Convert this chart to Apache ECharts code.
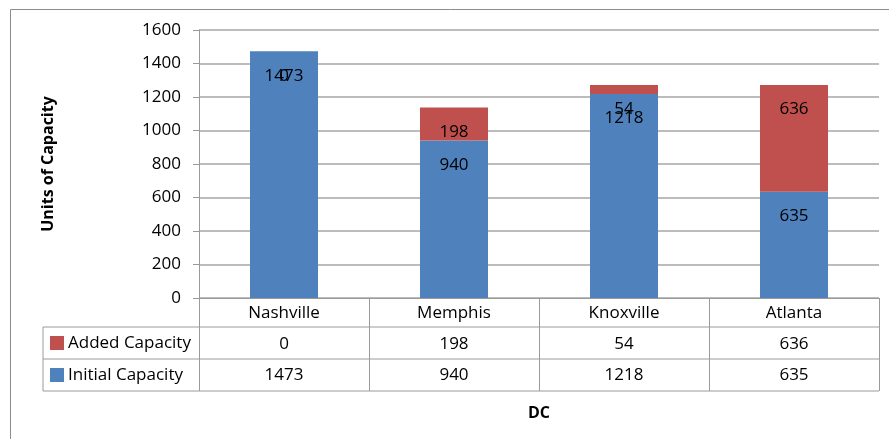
<!DOCTYPE html>
<html>
<head>
<meta charset="utf-8">
<script src="https://cdn.jsdelivr.net/npm/echarts@6/dist/echarts.min.js"></script>
<style>
  html, body { margin: 0; padding: 0; background: #fff; }
  #chart { width: 889px; height: 439px; }
</style>
</head>
<body>
<div id="chart"></div>
<script>
// Distribution centres and their capacity split
const categories = ['Nashville', 'Memphis', 'Knoxville', 'Atlanta'];
const initialCapacity = [1473, 940, 1218, 635];
const addedCapacity = [0, 198, 54, 636];
const yTicks = { min: 0, max: 1600, interval: 200 };

const FONT = '"Open Sans", sans-serif';
const FS = 17;
const GRID = { left: 199, right: 10, top: 30, bottom: 141 };
const W = 889, H = 439;
const axisBottom = H - GRID.bottom;        // top edge of the data table
const rowH = [29, 32, 32];                 // header, added, initial rows
const tableLeft = 43;
const tableRight = W - GRID.right;
const lineColor = '#9a9a9a';

const chart = echarts.init(document.getElementById('chart'), null, { renderer: 'canvas' });

// horizontal rules of the data table
const tableLines = [];
let yy = axisBottom;
for (let i = 0; i < rowH.length; i++) {
  yy += rowH[i];
  tableLines.push({
    type: 'line',
    shape: { x1: tableLeft, y1: yy, x2: tableRight, y2: yy },
    style: { stroke: lineColor, lineWidth: 1 }
  });
}
// left edge of the legend column
tableLines.push({
  type: 'line',
  shape: { x1: tableLeft, y1: axisBottom + rowH[0], x2: tableLeft, y2: yy },
  style: { stroke: lineColor, lineWidth: 1 }
});

const labelStyle = {
  show: true,
  position: 'insideTop',
  distance: 16,
  color: '#000',
  fontFamily: FONT,
  fontSize: FS
};

chart.setOption({
  animation: false,
  backgroundColor: '#fff',
  textStyle: { fontFamily: FONT },
  grid: GRID,
  legend: {
    orient: 'vertical',
    left: 50,
    top: axisBottom + rowH[0] + 7,
    padding: 0,
    itemWidth: 14,
    itemHeight: 14,
    itemGap: 14,
    icon: 'rect',
    data: ['Added Capacity', 'Initial Capacity'],
    textStyle: { fontFamily: FONT, fontSize: FS, color: '#000', lineHeight: 18, padding: [0, 0, 0, -1] }
  },
  xAxis: {
    type: 'category',
    data: categories,
    name: 'DC',
    nameLocation: 'middle',
    nameGap: 107,
    nameTextStyle: { fontFamily: FONT, fontSize: 16, fontWeight: 'bold', color: '#000' },
    axisLine: { show: true, lineStyle: { color: lineColor, width: 1 } },
    axisTick: { show: true, interval: 0, length: rowH[0] + rowH[1] + rowH[2], lineStyle: { color: lineColor } },
    axisLabel: {
      interval: 0,
      margin: 0,
      color: '#000',
      fontFamily: FONT,
      fontSize: FS,
      lineHeight: 31,
      formatter: (v, i) => v + '\n' + addedCapacity[i] + '\n' + initialCapacity[i]
    }
  },
  yAxis: {
    type: 'value',
    min: yTicks.min,
    max: yTicks.max,
    interval: yTicks.interval,
    name: 'Units of Capacity',
    nameLocation: 'middle',
    nameGap: 143,
    nameTextStyle: { fontFamily: FONT, fontSize: 16, fontWeight: 'bold', color: '#000' },
    axisLine: { show: true, lineStyle: { color: lineColor, width: 1 } },
    axisTick: { show: true, length: 6, lineStyle: { color: lineColor } },
    axisLabel: { color: '#000', fontFamily: FONT, fontSize: FS, margin: 18, formatter: v => String(v) },
    splitLine: { show: true, lineStyle: { color: '#a6a6a6', width: 1.5 } }
  },
  series: [
    {
      name: 'Initial Capacity',
      type: 'bar',
      stack: 'cap',
      barWidth: '40%',
      data: initialCapacity,
      itemStyle: { color: '#4F81BD' },
      label: labelStyle
    },
    {
      name: 'Added Capacity',
      type: 'bar',
      stack: 'cap',
      barWidth: '40%',
      data: addedCapacity,
      itemStyle: { color: '#C0504D' },
      label: labelStyle
    }
  ],
  graphic: [
    {
      type: 'rect',
      silent: true,
      shape: { x: 10.5, y: 9.5, width: 900, height: 500 },
      style: { fill: null, stroke: '#8c8c8c', lineWidth: 1 }
    }
  ].concat(tableLines)
});
</script>
</body>
</html>
